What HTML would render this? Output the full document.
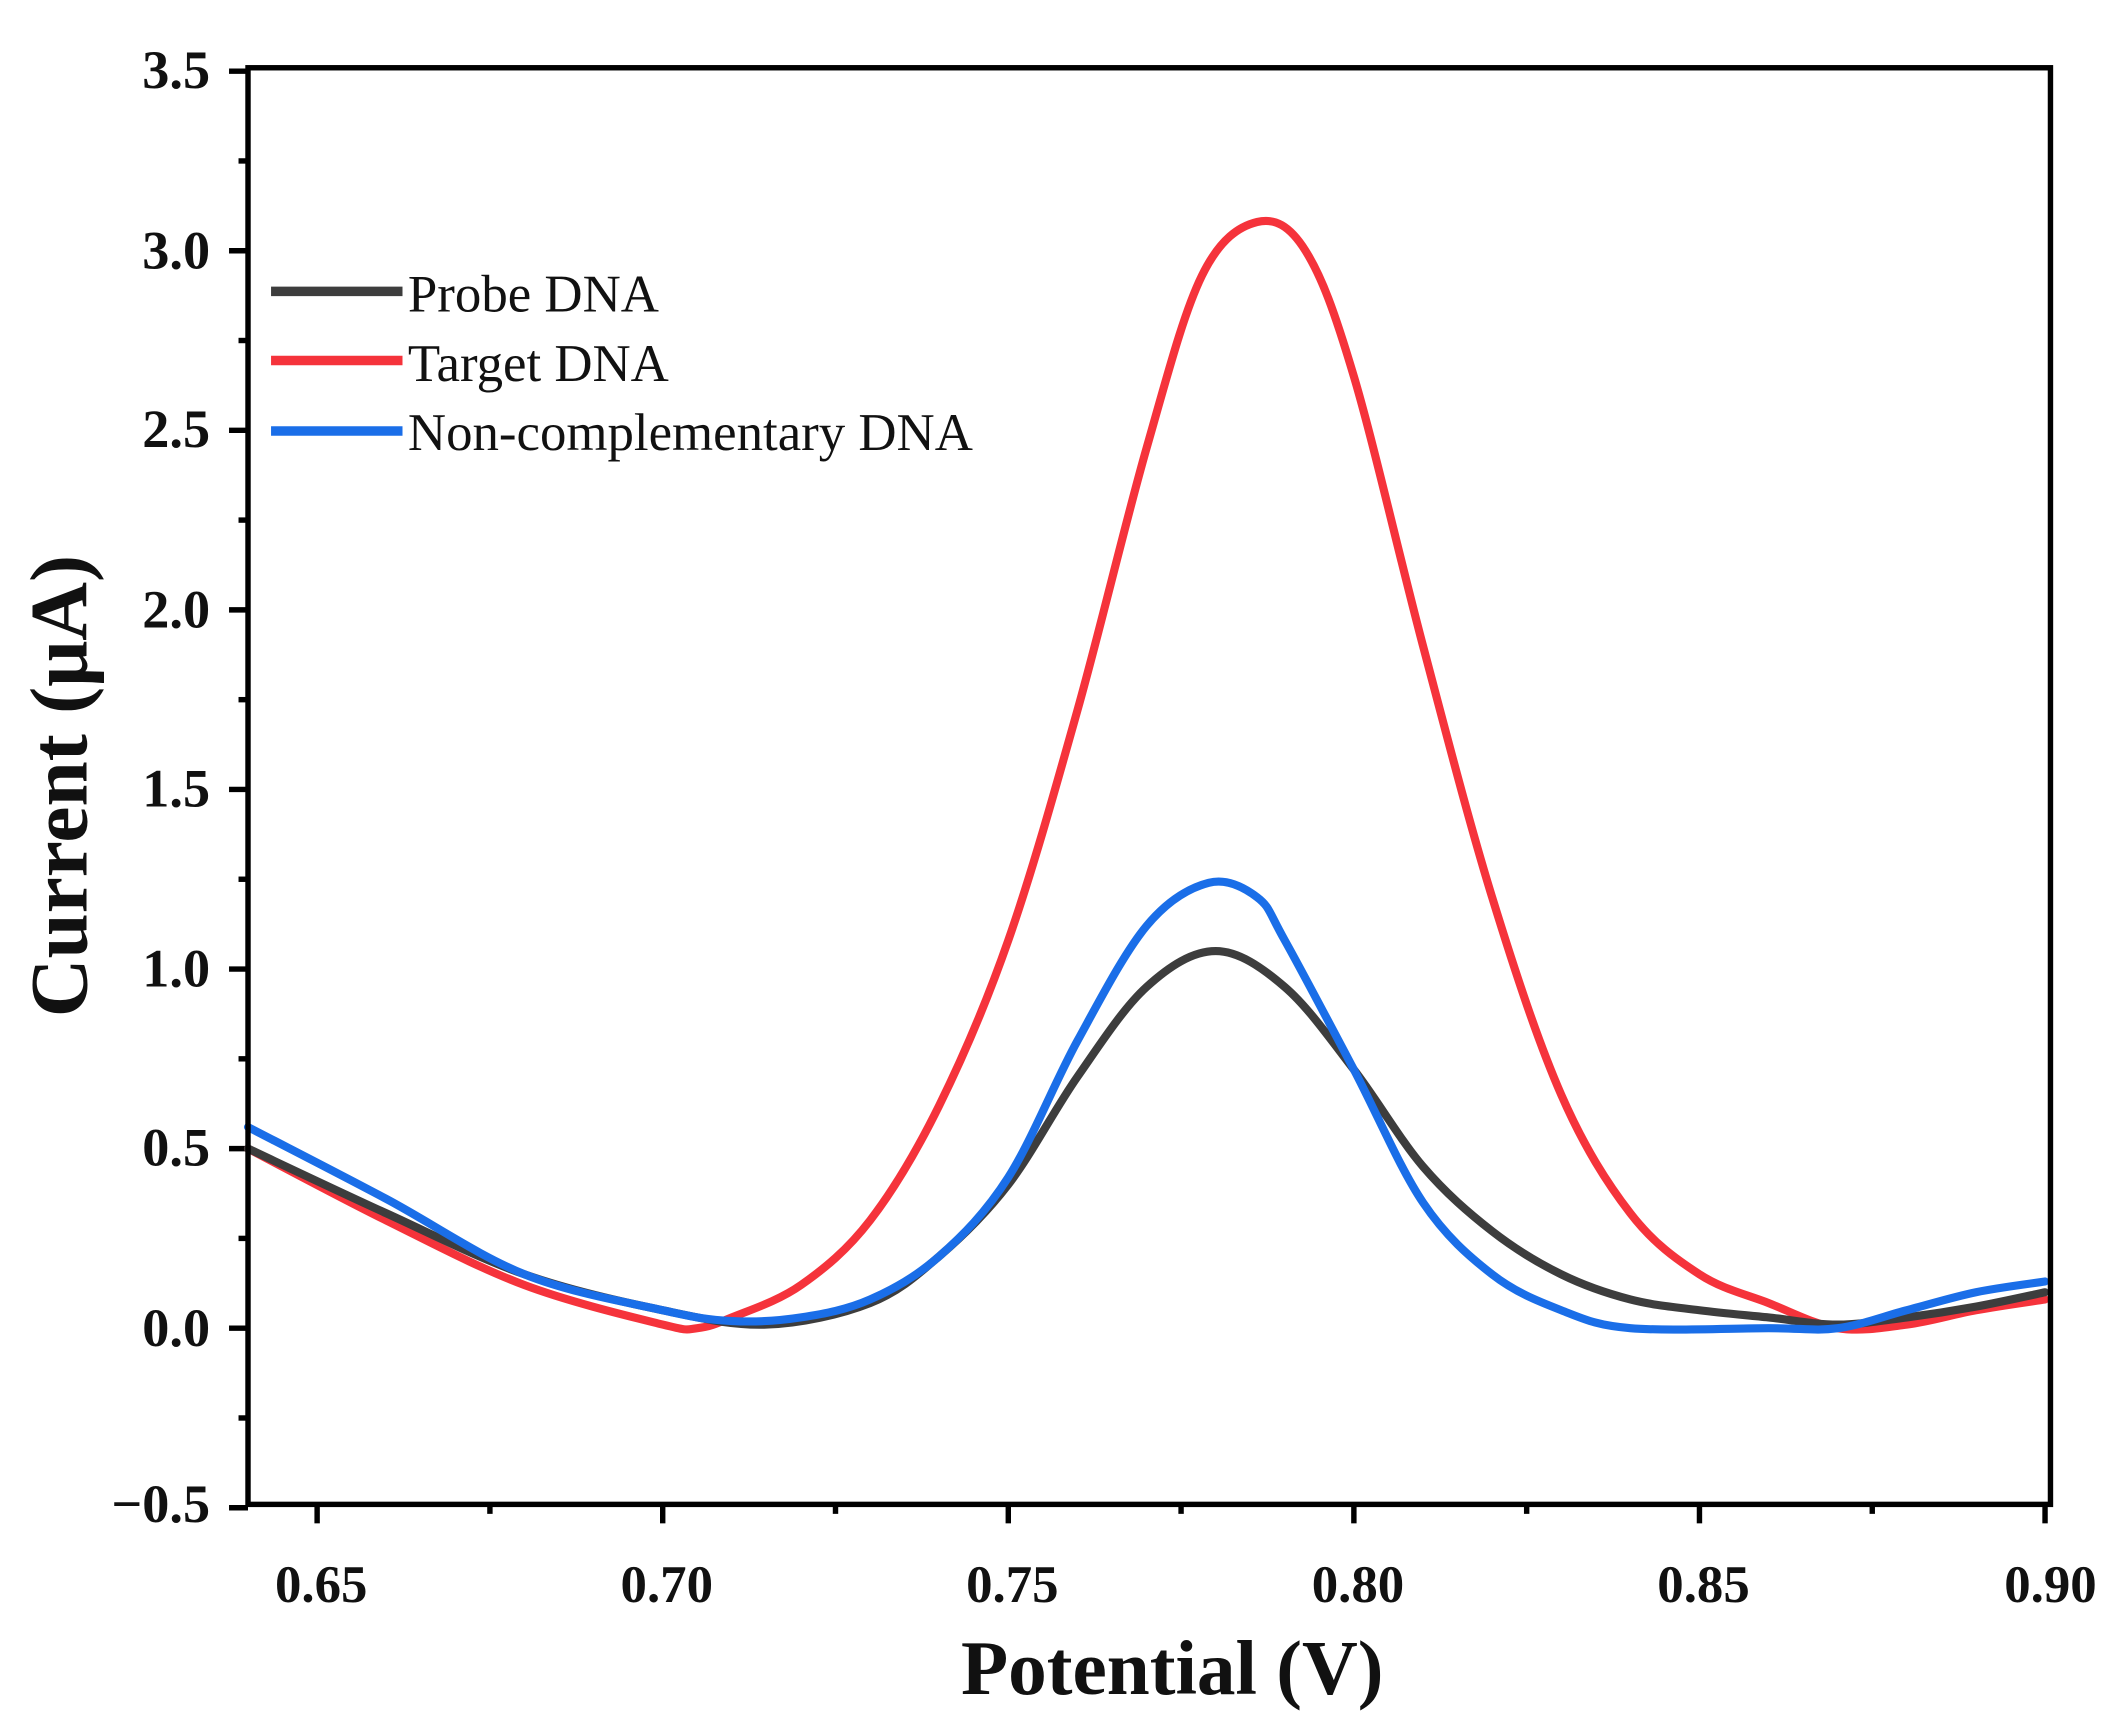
<!DOCTYPE html>
<html><head><meta charset="utf-8"><style>
html,body{margin:0;padding:0;background:#fff;}
svg{display:block;}
text{font-family:"Liberation Serif",serif;font-weight:bold;fill:#111;}
.leg{font-weight:normal;font-size:39px;}
</style></head><body>
<svg id="s" width="2125" height="1728" viewBox="0 0 1568 1275" preserveAspectRatio="none" xmlns="http://www.w3.org/2000/svg">
<g id="ticks" stroke="#000" stroke-width="4"></g>
<g id="curves" fill="none" stroke-width="6" stroke-linejoin="round" stroke-linecap="round"></g>
<rect x="183" y="50" width="1330" height="1060" fill="none" stroke="#000" stroke-width="4"/>
<g font-size="40" text-anchor="end">
<text x="155" y="65">3.5</text><text x="155" y="198">3.0</text><text x="155" y="330">2.5</text>
<text x="155" y="463">2.0</text><text x="155" y="595">1.5</text><text x="155" y="728">1.0</text>
<text x="155" y="860">0.5</text><text x="155" y="993">0.0</text><text x="155" y="1123">−0.5</text>
</g>
<g font-size="39" text-anchor="middle">
<text x="237" y="1182">0.65</text><text x="492" y="1182">0.70</text><text x="747" y="1182">0.75</text>
<text x="1002" y="1182">0.80</text><text x="1257" y="1182">0.85</text><text x="1513" y="1182">0.90</text>
</g>
<text x="865" y="1250" font-size="57" text-anchor="middle">Potential (V)</text>
<text transform="translate(64,580) rotate(-90)" font-size="60" text-anchor="middle">Current (μA)</text>
<line x1="200" y1="215" x2="297" y2="215" stroke="#3d3d3d" stroke-width="7"/>
<line x1="200" y1="266" x2="297" y2="266" stroke="#f5333b" stroke-width="7"/>
<line x1="200" y1="318" x2="297" y2="318" stroke="#1a6ee8" stroke-width="7"/>
<text class="leg" x="301" y="230">Probe DNA</text>
<text class="leg" x="301" y="281">Target DNA</text>
<text class="leg" x="301" y="332">Non-complementary DNA</text>
</svg>
<script>
var NS="http://www.w3.org/2000/svg";
function X(x){return 183+(x-0.64)*5100;}
function Y(y){return 980-y*265;}
var t=document.getElementById("ticks"),h="";
for(var i=0;i<=16;i++){var v=3.5-i*0.25,y=Y(v),L=(i%2==0)?14:7;h+='<line x1="'+(183-L)+'" y1="'+y+'" x2="183" y2="'+y+'"/>';}
for(var k=0;k<=10;k++){var xv=0.65+k*0.025;var x=X(xv);if(x>1514)break;var L=(k%2==0)?14:7;h+='<line x1="'+x+'" y1="1110" x2="'+x+'" y2="'+(1110+L)+'"/>';}
t.innerHTML=h;
var data={
"#f5333b":[[0.64,0.5],[0.66,0.3],[0.68,0.12],[0.70,0.01],[0.705,0.0],[0.71,0.03],[0.72,0.12],[0.73,0.3],[0.74,0.62],[0.75,1.08],[0.76,1.72],[0.77,2.45],[0.778,2.93],[0.786,3.08],[0.793,3.0],[0.80,2.65],[0.81,1.9],[0.82,1.2],[0.83,0.65],[0.84,0.32],[0.85,0.15],[0.86,0.07],[0.87,0.0],[0.88,0.01],[0.89,0.05],[0.90,0.08]],
"#3d3d3d":[[0.64,0.5],[0.66,0.32],[0.68,0.15],[0.70,0.05],[0.715,0.01],[0.73,0.07],[0.74,0.2],[0.75,0.4],[0.76,0.7],[0.77,0.95],[0.78,1.05],[0.79,0.95],[0.80,0.72],[0.81,0.45],[0.82,0.27],[0.83,0.15],[0.84,0.08],[0.85,0.05],[0.86,0.03],[0.87,0.01],[0.88,0.03],[0.89,0.06],[0.90,0.1]],
"#1a6ee8":[[0.64,0.56],[0.66,0.36],[0.68,0.15],[0.70,0.05],[0.71,0.02],[0.72,0.03],[0.73,0.08],[0.74,0.2],[0.75,0.42],[0.76,0.8],[0.77,1.12],[0.779,1.24],[0.786,1.2],[0.79,1.08],[0.80,0.72],[0.81,0.35],[0.82,0.15],[0.83,0.05],[0.84,0.0],[0.86,0.0],[0.87,0.0],[0.88,0.05],[0.89,0.1],[0.90,0.13]]};
var g=document.getElementById("curves");
for(var c in data){var p=data[c].map(function(a){return [X(a[0]),Y(a[1])];});
var d="M"+p[0][0]+","+p[0][1];
for(var i=0;i<p.length-1;i++){var p0=p[i-1]||p[i],p1=p[i],p2=p[i+1],p3=p[i+2]||p2;
d+=" C"+(p1[0]+(p2[0]-p0[0])/6)+","+(p1[1]+(p2[1]-p0[1])/6)+" "+(p2[0]-(p3[0]-p1[0])/6)+","+(p2[1]-(p3[1]-p1[1])/6)+" "+p2[0]+","+p2[1];}
var e=document.createElementNS(NS,"path");e.setAttribute("d",d);e.setAttribute("stroke",c);g.appendChild(e);}
</script>
</body></html>
